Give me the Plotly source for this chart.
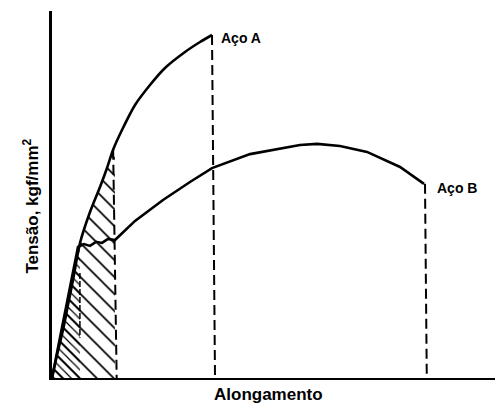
import numpy as np
import plotly.graph_objects as go

# Aço A curve (alongamento, tensão) in arbitrary units (0-100)
aco_a_x = [0, 1.13, 2.48, 3.61, 4.74, 6.32, 8.58, 10.84, 12.42, 13.77, 15.80, 18.74, 22.12, 25.51, 30.02, 33.41, 36.12]
aco_a_y = [0, 6.27, 13.08, 19.89, 26.70, 36.78, 45.23, 52.04, 57.22, 62.13, 67.57, 74.39, 79.84, 84.47, 88.83, 91.55, 93.46]

# Aço B curve
aco_b_x = [0, 5.87, 7.22, 8.58, 9.93, 11.29, 12.64, 14.22, 18.74, 25.06, 31.15, 36.12, 44.70, 55.98, 59.82, 65.01, 71.11, 78.56, 83.97]
aco_b_y = [0, 35.7, 36.5, 36.0, 37.1, 36.8, 37.9, 37.6, 42.8, 48.5, 53.4, 57.2, 61.0, 63.5, 63.8, 63.2, 61.6, 57.5, 52.9]

# break / limit markers
ruptura_a_x = [36.12, 36.8]
ruptura_b_x = [84.2, 84.6]
limite_x = [13.8, 14.6]
elastico_x = 6.3
hatch_limit = 14.2

labels = {"A": "Aço A", "B": "Aço B"}
x_title = "Alongamento"
y_title = "Tensão, kgf/mm<sup>2</sup>"

fig = go.Figure()

ax = np.array(aco_a_x)
ay = np.array(aco_a_y)

def under_a(xmax):
    xs = [v for v in aco_a_x if v < xmax] + [xmax]
    ys = list(np.interp(xs, ax, ay))
    return xs, ys

hx, hy = under_a(hatch_limit)
fig.add_trace(go.Scatter(x=hx, y=hy, mode="lines", line=dict(width=0, color="black"),
                         fill="tozeroy", fillcolor="black",
                         fillpattern=dict(shape="\\", size=12, solidity=0.14, fgopacity=1,
                                          fgcolor="black", bgcolor="rgba(0,0,0,0)"),
                         hoverinfo="skip", showlegend=False))
dx, dy = under_a(elastico_x)
fig.add_trace(go.Scatter(x=dx, y=dy, mode="lines", line=dict(width=0, color="black"),
                         fill="tozeroy", fillcolor="black",
                         fillpattern=dict(shape="\\", size=6, solidity=0.2, fgopacity=1,
                                          fgcolor="black", bgcolor="rgba(0,0,0,0)"),
                         hoverinfo="skip", showlegend=False))

# vertical dashed lines
ya_end = aco_a_y[-1]
yb_end = aco_b_y[-1]
ylim_top = float(np.interp(limite_x[0], ax, ay))
fig.add_trace(go.Scatter(x=ruptura_a_x, y=[ya_end, 0], mode="lines",
                         line=dict(color="black", width=2, dash="10px,5px"), showlegend=False))
fig.add_trace(go.Scatter(x=ruptura_b_x, y=[yb_end, 0], mode="lines",
                         line=dict(color="black", width=2, dash="10px,5px"), showlegend=False))
fig.add_trace(go.Scatter(x=limite_x, y=[ylim_top, 0], mode="lines",
                         line=dict(color="black", width=2, dash="10px,5px"), showlegend=False))
yel = float(np.interp(elastico_x, ax, ay))
fig.add_trace(go.Scatter(x=[elastico_x, elastico_x], y=[yel * 0.78, yel * 0.3], mode="lines",
                         line=dict(color="black", width=1.5, dash="6px,2px"), showlegend=False))

# curves
fig.add_trace(go.Scatter(x=aco_a_x, y=aco_a_y, mode="lines", line=dict(color="black", width=2.6, shape="spline", smoothing=0.6),
                         showlegend=False))
fig.add_trace(go.Scatter(x=aco_b_x, y=aco_b_y, mode="lines", line=dict(color="black", width=2.6),
                         showlegend=False))

font = dict(family="Liberation Sans, Arial, sans-serif", color="black")
fig.add_annotation(x=37.8, y=92.6, text="<b>" + labels["A"] + "</b>", showarrow=False,
                   xanchor="left", yanchor="middle", font=dict(size=14, **font))
fig.add_annotation(x=86.5, y=51.8, text="<b>" + labels["B"] + "</b>", showarrow=False,
                   xanchor="left", yanchor="middle", font=dict(size=14, **font))
fig.add_annotation(x=0.488, y=-0.046, xref="paper", yref="paper", text="<b>" + x_title + "</b>",
                   showarrow=False, xanchor="center", yanchor="middle", font=dict(size=17, **font))
fig.add_annotation(x=-0.048, y=0.469, xref="paper", yref="paper", text="<b>" + y_title + "</b>",
                   showarrow=False, xanchor="center", yanchor="middle", textangle=-90,
                   font=dict(size=17, **font))

fig.update_layout(
    width=495, height=409,
    margin=dict(l=52, r=0, t=11, b=31),
    paper_bgcolor="white", plot_bgcolor="white",
    xaxis=dict(range=[0, 100], showgrid=False, zeroline=False, showticklabels=False, ticks="",
               showline=True, linecolor="black", linewidth=2),
    yaxis=dict(range=[0, 100], showgrid=False, zeroline=False, showticklabels=False, ticks="",
               showline=True, linecolor="black", linewidth=3),
)

fig.write_html("out.html", config={"displayModeBar": False},
               post_script="document.body.style.margin='0px';document.body.style.padding='0px';")
